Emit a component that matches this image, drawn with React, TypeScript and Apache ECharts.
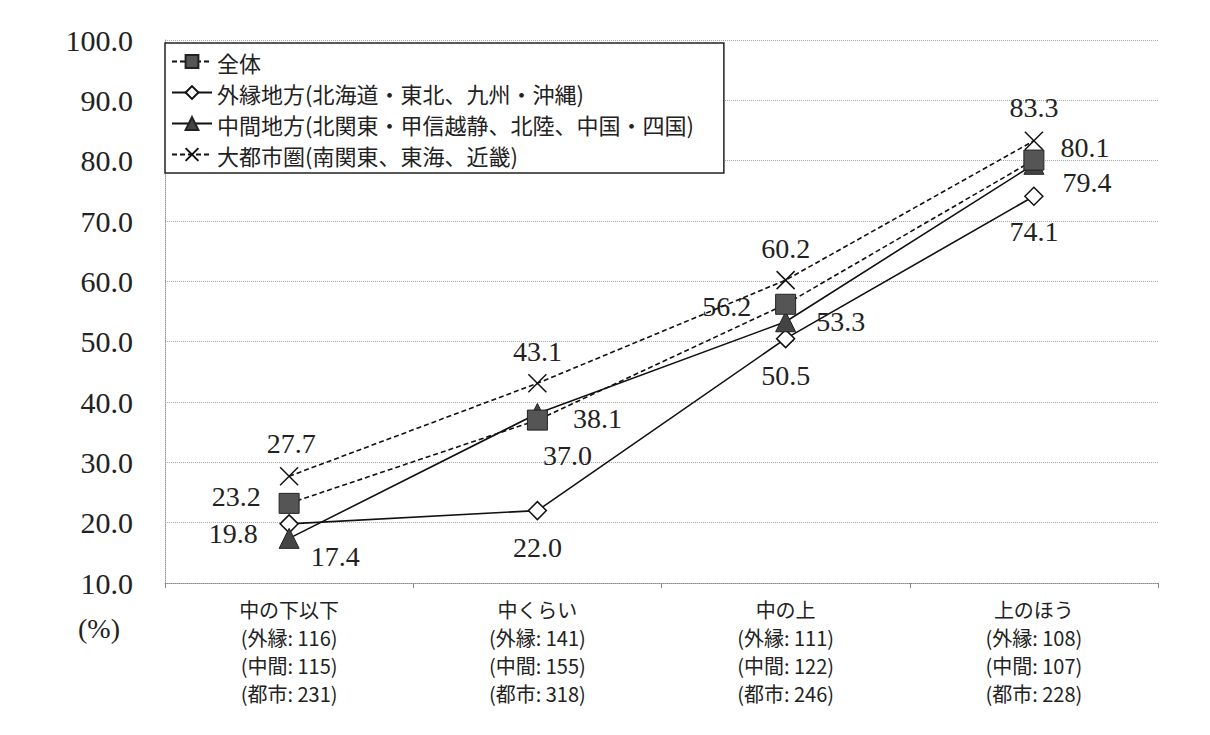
import React, { useEffect, useRef } from "react";
import * as echarts from "echarts";

const categories = ["中の下以下", "中くらい", "中の上", "上のほう"];
const nOuter = [116, 141, 111, 108];
const nMiddle = [115, 155, 122, 107];
const nMetro = [231, 318, 246, 228];

const seriesNames = [
  "全体",
  "外縁地方(北海道・東北、九州・沖縄)",
  "中間地方(北関東・甲信越静、北陸、中国・四国)",
  "大都市圏(南関東、東海、近畿)",
];
const totalValues = [23.2, 37.0, 56.2, 80.1];
const outerValues = [19.8, 22.0, 50.5, 74.1];
const middleValues = [17.4, 38.1, 53.3, 79.4];
const metroValues = [27.7, 43.1, 60.2, 83.3];

const yTicks = { min: 10, max: 100, interval: 10 };

// label offsets (styling)
const totalOffsets = [[-53, -7], [30, 35], [-59, 2], [51, -13]];
const outerOffsets = [[-56, 10], [0, 37], [0, 37], [0, 35]];
const middleOffsets = [[46, 18], [60, 5], [55, 0], [53, 18]];
const metroOffsets = [[2, -33], [0, -32], [0, -32], [0, -33]];

const SERIF = "Liberation Serif, DejaVu Serif, serif";
const CJK = "Noto Sans CJK JP, sans-serif";

function makeData(values: number[], offsets: number[][]) {
  return values.map((v, i) => ({
    value: v,
    label: { offset: offsets[i] },
  }));
}

const labelBase = {
  show: true,
  position: "inside",
  color: "#222",
  fontFamily: SERIF,
  fontSize: 28,
  formatter: (p: any) => Number(p.value).toFixed(1),
};

export default function App() {
  const ref = useRef<HTMLDivElement>(null);
  useEffect(() => {
    if (!ref.current) return;
    const chart = echarts.init(ref.current, undefined, { renderer: "svg" });
    const xPath = "path://M0,0L10,10M10,0L0,10";
    chart.setOption({
      animation: false,
      backgroundColor: "#fff",
      grid: { left: 165, right: 52, top: 40, bottom: 152 },
      legend: {
        orient: "vertical",
        left: 165,
        top: 43,
        backgroundColor: "#fff",
        borderColor: "#222",
        borderWidth: 1.5,
        padding: [6, 30, 6, 6],
        itemWidth: 40,
        itemHeight: 16,
        itemGap: 6,
        textStyle: { fontFamily: CJK, fontSize: 22, lineHeight: 25, color: "#222" },
        data: seriesNames,
      },
      xAxis: {
        type: "category",
        data: categories,
        boundaryGap: true,
        axisLine: { lineStyle: { color: "#888", type: "dotted", width: 1 } },
        axisTick: { show: true, length: 5, lineStyle: { color: "#888" } },
        axisLabel: {
          margin: 12,
          fontFamily: CJK,
          fontSize: 20,
          lineHeight: 28,
          color: "#222",
          formatter: (v: string, i: number) =>
            `${v}\n(外縁: ${nOuter[i]})\n(中間: ${nMiddle[i]})\n(都市: ${nMetro[i]})`,
        },
      },
      yAxis: {
        type: "value",
        min: yTicks.min,
        max: yTicks.max,
        interval: yTicks.interval,
        axisLine: { show: true, lineStyle: { color: "#999", type: "dotted" } },
        axisTick: { show: false },
        axisLabel: {
          margin: 32,
          fontFamily: SERIF,
          fontSize: 30,
          color: "#222",
          formatter: (v: number) => v.toFixed(1),
        },
        splitLine: { lineStyle: { color: "#aaa", type: "dotted", width: 1 } },
      },
      graphic: [
        {
          type: "text",
          left: 78,
          top: 614,
          style: { text: "(%)", fontFamily: SERIF, fontSize: 28, fill: "#222" },
        },
      ],
      series: [
        {
          name: seriesNames[0],
          type: "line",
          data: makeData(totalValues, totalOffsets),
          symbol: "rect",
          symbolSize: 20,
          z: 4,
          itemStyle: { color: "#555", borderColor: "#222", borderWidth: 1 },
          lineStyle: { color: "#111", width: 1.6, type: [5, 3] },
          label: labelBase,
        },
        {
          name: seriesNames[1],
          type: "line",
          data: makeData(outerValues, outerOffsets),
          symbol: "diamond",
          symbolSize: 18,
          z: 3,
          itemStyle: { color: "#fff", borderColor: "#111", borderWidth: 1.5 },
          lineStyle: { color: "#111", width: 1.6, type: "solid" },
          label: labelBase,
        },
        {
          name: seriesNames[2],
          type: "line",
          data: makeData(middleValues, middleOffsets),
          symbol: "triangle",
          symbolSize: 20,
          z: 3,
          itemStyle: { color: "#444", borderColor: "#222", borderWidth: 1 },
          lineStyle: { color: "#111", width: 1.6, type: "solid" },
          label: labelBase,
        },
        {
          name: seriesNames[3],
          type: "line",
          data: makeData(metroValues, metroOffsets),
          symbol: xPath,
          symbolSize: 18,
          z: 5,
          itemStyle: { color: "#fff", borderColor: "#111", borderWidth: 1.5 },
          lineStyle: { color: "#111", width: 1.6, type: [5, 3] },
          label: labelBase,
        },
      ],
    });
    return () => chart.dispose();
  }, []);
  return (
    <div
      ref={ref}
      style={{ position: "fixed", left: 0, top: 0, width: 1210, height: 735, background: "#fff" }}
    />
  );
}
